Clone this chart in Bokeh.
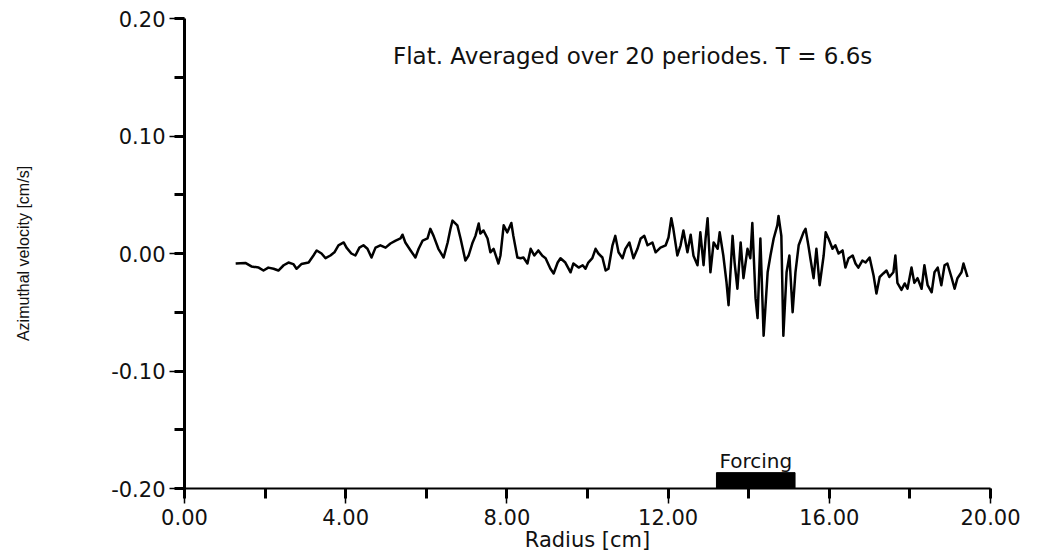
from bokeh.plotting import figure
from bokeh.models import SingleIntervalTicker, NumeralTickFormatter, Range1d
from bokeh.core.properties import value
from bokeh.embed import file_html
from bokeh.resources import INLINE

# ---- data ----
radius = [1.27, 1.51, 1.66, 1.84, 1.96, 2.08, 2.21, 2.33, 2.46, 2.58, 2.70, 2.78, 2.90, 3.08, 3.20,
          3.28, 3.40, 3.50, 3.62, 3.72, 3.82, 3.95, 4.02, 4.14, 4.24, 4.34, 4.44, 4.54, 4.64, 4.74,
          4.86, 4.99, 5.11, 5.24, 5.36, 5.41, 5.48, 5.61, 5.73, 5.81, 5.91, 6.03, 6.10, 6.18, 6.30,
          6.43, 6.53, 6.60, 6.65, 6.77, 6.85, 6.97, 7.05, 7.15, 7.22, 7.30, 7.34, 7.42, 7.52, 7.59,
          7.67, 7.79, 7.84, 7.92, 8.01, 8.11, 8.16, 8.26, 8.34, 8.41, 8.51, 8.59, 8.68, 8.78, 8.88,
          8.96, 9.08, 9.16, 9.26, 9.33, 9.45, 9.58, 9.65, 9.78, 9.88, 9.95, 10.02, 10.12, 10.20, 10.27,
          10.37, 10.45, 10.52, 10.62, 10.69, 10.77, 10.87, 10.94, 11.04, 11.14, 11.24, 11.32, 11.41,
          11.49, 11.61, 11.69, 11.81, 11.94, 12.01, 12.08, 12.13, 12.23, 12.31, 12.38, 12.48, 12.56,
          12.63, 12.73, 12.80, 12.88, 12.93, 12.98, 13.05, 13.13, 13.23, 13.28, 13.37, 13.45, 13.50,
          13.60, 13.65, 13.72, 13.80, 13.87, 13.97, 14.04, 14.09, 14.17, 14.22, 14.29, 14.37, 14.47,
          14.54, 14.62, 14.71, 14.74, 14.81, 14.86, 14.94, 15.01, 15.09, 15.16, 15.24, 15.36, 15.41,
          15.48, 15.53, 15.61, 15.68, 15.76, 15.86, 15.91, 15.98, 16.08, 16.15, 16.23, 16.33, 16.40,
          16.48, 16.58, 16.65, 16.72, 16.82, 16.90, 17.00, 17.10, 17.17, 17.25, 17.34, 17.42, 17.49,
          17.59, 17.64, 17.69, 17.79, 17.87, 17.94, 18.04, 18.11, 18.19, 18.29, 18.36, 18.44, 18.54,
          18.61, 18.69, 18.78, 18.86, 18.93, 19.03, 19.11, 19.18, 19.28, 19.33, 19.43]

velocity = [-0.0085, -0.008, -0.011, -0.012, -0.0145, -0.012, -0.013, -0.0145, -0.010, -0.0077,
            -0.009, -0.013, -0.009, -0.0077, -0.0017, 0.0026, 0.0, -0.004, -0.0017, 0.001,
            0.007, 0.0094, 0.005, 0.0, -0.0017, 0.005, 0.007, 0.004, -0.0034, 0.005,
            0.007, 0.005, 0.0085, 0.011, 0.0128, 0.016, 0.0094, 0.0026, -0.0034, 0.004,
            0.011, 0.0128, 0.021, 0.015, 0.004, -0.0034, 0.0094, 0.021, 0.028, 0.024,
            0.0128, -0.006, -0.0017, 0.0094, 0.015, 0.0255, 0.017, 0.0196, 0.0128, 0.001,
            0.004, -0.0085, -0.0017, 0.024, 0.018, 0.026, 0.015, -0.0034, -0.004, -0.0034,
            -0.0085, 0.004, -0.0017, 0.0026, -0.002, -0.004, -0.013, -0.017, -0.0077, -0.004,
            -0.0077, -0.016, -0.0085, -0.012, -0.010, -0.013, -0.0077, -0.004, 0.004, 0.0,
            -0.0034, -0.0145, -0.013, 0.007, 0.015, 0.001, -0.004, 0.004, 0.0094, -0.004,
            0.004, 0.0128, 0.015, 0.007, 0.0094, 0.001, 0.005, 0.007, 0.0136, 0.030,
            0.021, -0.0017, 0.007, 0.0196, 0.001, 0.016, -0.002, -0.010, 0.018, -0.010,
            0.0128, 0.030, -0.016, 0.0094, 0.004, 0.018, -0.0017, -0.0247, -0.044, 0.015,
            -0.0077, -0.030, 0.0094, -0.021, 0.004, -0.004, 0.026, -0.038, -0.055, 0.0128,
            -0.070, -0.016, -0.0017, 0.0128, 0.024, 0.032, 0.015, -0.070, -0.016, -0.0017,
            -0.050, -0.016, 0.007, 0.018, 0.021, 0.007, -0.004, -0.021, 0.004, -0.027,
            -0.0017, 0.018, 0.0128, 0.004, 0.007, 0.0, 0.0026, -0.012, -0.004, -0.0017,
            -0.0085, -0.012, -0.006, -0.0077, -0.0034, -0.019, -0.034, -0.020, -0.017, -0.0145,
            -0.020, -0.016, -0.0017, -0.025, -0.031, -0.0255, -0.030, -0.012, -0.025, -0.021,
            -0.030, -0.010, -0.027, -0.033, -0.016, -0.012, -0.027, -0.010, -0.0085, -0.020,
            -0.030, -0.021, -0.016, -0.0085, -0.020]

forcing_start = [13.2]
forcing_end = [15.15]
forcing_label = ["Forcing"]
title_text = ["Flat. Averaged over 20 periodes. T = 6.6s"]

x_ticks_interval = 4
y_ticks_interval = 0.1

p = figure(width=1039, height=557, output_backend="svg", toolbar_location=None,
           x_range=Range1d(0, 20), y_range=Range1d(-0.2, 0.2),
           min_border_left=184, min_border_right=49, min_border_top=18, min_border_bottom=69)
p.outline_line_color = None
p.grid.visible = False
p.background_fill_color = "white"
p.border_fill_color = "white"

p.line(radius, velocity, line_color="black", line_width=2.5, line_join="round")

p.quad(left=forcing_start, right=forcing_end, bottom=[-0.2], top=[-0.1865],
       fill_color="black", line_color="black")
p.text(x=[(forcing_start[0] + forcing_end[0]) / 2], y=[-0.177], text=forcing_label,
       text_align="center", text_baseline="middle", text_font=value("DejaVu Sans"),
       text_font_size="20px", text_color="#111111")
p.text(x=[11.12], y=[0.1685], text=title_text, text_align="center", text_baseline="middle",
       text_font=value("DejaVu Sans"), text_font_size="23px", text_color="#111111")

xa = p.xaxis[0]
xa.ticker = SingleIntervalTicker(interval=x_ticks_interval, num_minor_ticks=2)
xa.formatter = NumeralTickFormatter(format="0.00")
xa.axis_label = "Radius [cm]"
xa.axis_label_text_font = "DejaVu Sans"
xa.axis_label_text_font_size = "21px"
xa.axis_label_text_font_style = "normal"
xa.axis_label_text_color = "#111111"
xa.axis_label_standoff = 0
xa.major_label_text_font = "DejaVu Sans"
xa.major_label_text_font_size = "21px"
xa.major_label_text_color = "#111111"
xa.major_label_standoff = 5
xa.axis_line_width = 2
xa.major_tick_in = 0
xa.major_tick_out = 15
xa.major_tick_line_width = 1.5
xa.minor_tick_in = 0
xa.minor_tick_out = 10
xa.minor_tick_line_width = 3

ya = p.yaxis[0]
ya.ticker = SingleIntervalTicker(interval=y_ticks_interval, num_minor_ticks=2)
ya.formatter = NumeralTickFormatter(format="0.00")
ya.axis_label = "Azimuthal velocity [cm/s]"
ya.axis_label_text_font = "Liberation Sans"
ya.axis_label_text_font_size = "16px"
ya.axis_label_text_font_style = "normal"
ya.axis_label_text_color = "#111111"
ya.axis_label_standoff = 76
ya.major_label_text_font = "DejaVu Sans"
ya.major_label_text_font_size = "21px"
ya.major_label_text_color = "#111111"
ya.major_label_standoff = 4
ya.axis_line_width = 3
ya.major_tick_in = 0
ya.major_tick_out = 15
ya.major_tick_line_width = 1.5
ya.minor_tick_in = 0
ya.minor_tick_out = 10
ya.minor_tick_line_width = 3

open("out.html", "w").write(file_html(p, INLINE))
